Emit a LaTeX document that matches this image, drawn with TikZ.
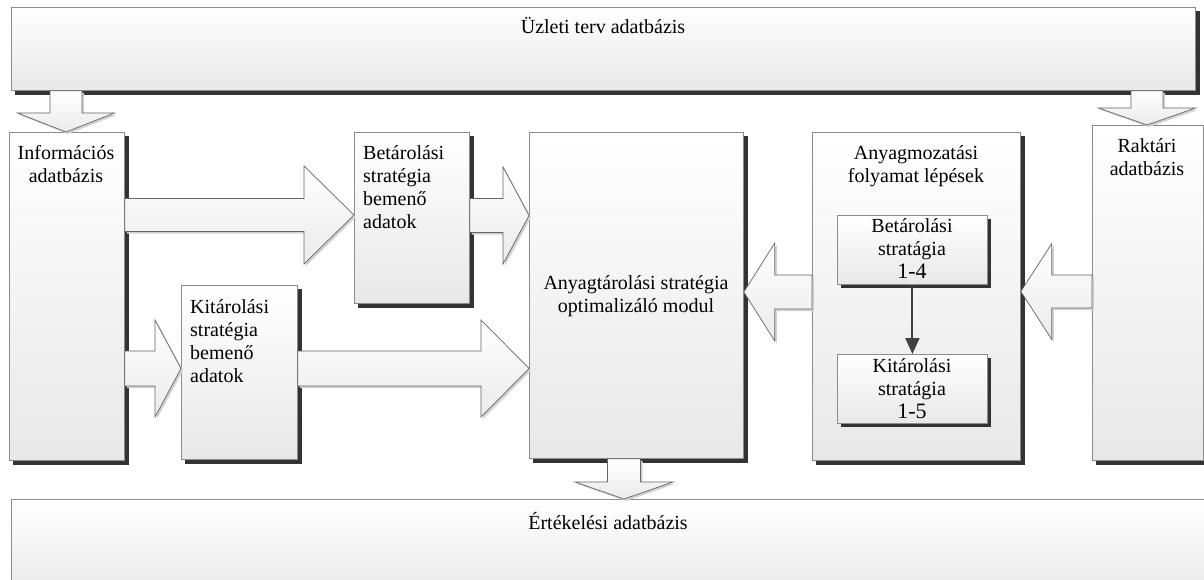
\documentclass[tikz,border=0pt]{standalone}
\usepackage{fontspec}
\setmainfont{Liberation Serif}
\usetikzlibrary{calc,arrows.meta}

\pgfdeclarelayer{under}
\pgfsetlayers{under,main}

\tikzset{
  box/.style={draw=black!45, line width=0.8pt, top color=white, bottom color=black!9,
    inner sep=0pt, anchor=north west},
  boxshadow/.style={fill=black!80},
  blockarrow/.style={draw=black!60, line width=0.7pt, line join=miter,
    top color=white, bottom color=black!8,
    preaction={fill=black!18, transform canvas={shift={(2pt,-2pt)}}}},
  txt/.style={inner sep=0pt, font=\fontsize{20}{23}\selectfont},
  flowarrow/.style={draw=black!75, line width=2pt, -{Triangle[length=16pt,width=14pt]}},
}

% hard drop shadow behind a box
\newcommand\shadowof[1]{%
  \fill[boxshadow] ([shift={(4pt,-4pt)}]#1.north west) rectangle ([shift={(4pt,-4pt)}]#1.south east);}
% horizontal block arrow: tail anchor, tip anchor, centre y, shaft half, head half, head length
\newcommand\harrow[6]{%
  \path[blockarrow] let \p1=(#1), \p2=(#2), \n1={ifthenelse(\x2>\x1,1,-1)} in
    ({\x1},{#3+#4}) -- ({\x2-\n1*#6},{#3+#4}) -- ({\x2-\n1*#6},{#3+#5}) -- ({\x2},{#3})
    -- ({\x2-\n1*#6},{#3-#5}) -- ({\x2-\n1*#6},{#3-#4}) -- ({\x1},{#3-#4}) -- cycle;}
% vertical block arrow: tail anchor, tip anchor, centre x, shaft half, head half, head length
\newcommand\varrow[6]{%
  \path[blockarrow] let \p1=(#1), \p2=(#2), \n1={ifthenelse(\y2>\y1,1,-1)} in
    ({#3-#4},{\y1}) -- ({#3-#4},{\y2-\n1*#6}) -- ({#3-#5},{\y2-\n1*#6}) -- ({#3},{\y2})
    -- ({#3+#5},{\y2-\n1*#6}) -- ({#3+#4},{\y2-\n1*#6}) -- ({#3+#4},{\y1}) -- cycle;}

\begin{document}
\begin{tikzpicture}[x=1pt,y=1pt]
\useasboundingbox (0,0) rectangle (1204,-580);

% main boxes
\node[box, minimum width=1184pt, minimum height=83pt] (top) at (11,-7) {};
\node[box, minimum width=115pt, minimum height=328pt] (info) at (9,-132) {};
\node[box, minimum width=115pt, minimum height=171pt] (betin) at (354,-132) {};
\node[box, minimum width=116pt, minimum height=174pt] (kiin) at (181,-285) {};
\node[box, minimum width=214pt, minimum height=326pt] (central) at (529,-132) {};
\node[box, minimum width=208pt, minimum height=328pt] (anyag) at (812,-132) {};
\node[box, minimum width=111pt, minimum height=335pt] (rakt) at (1092,-125) {};
\node[box, minimum width=1200pt, minimum height=100pt] (bottom) at (11,-499) {};

% page background and box shadows
\begin{pgfonlayer}{under}
  \fill[white] (0,0) rectangle (1204,-580);
  \foreach \b in {top,info,betin,kiin,central,anyag,rakt} {\shadowof{\b}}
\end{pgfonlayer}

% step boxes inside the material flow box, shadow first
\fill[boxshadow] (841,-219) rectangle (991,-288);
\fill[boxshadow] (841,-358) rectangle (991,-427);
\node[box, minimum width=150pt, minimum height=69pt] (be14) at (837,-215) {};
\node[box, minimum width=150pt, minimum height=69pt] (ki15) at (837,-354) {};

% block arrows
\varrow{top.south}{info.north}{66}{16}{48.5}{19}
\varrow{top.south}{rakt.north}{1147}{16}{48.5}{17}
\harrow{info.east}{betin.west}{-215}{16.5}{49}{50}
\harrow{betin.east}{central.west}{-215.5}{17}{48.5}{26}
\harrow{info.east}{kiin.west}{-368.5}{17.5}{48.5}{26}
\harrow{kiin.east}{central.west}{-368.5}{17.5}{48.5}{48}
\harrow{anyag.west}{central.east}{-292}{17}{49}{31}
\harrow{rakt.west}{anyag.east}{-291.5}{16.5}{48}{31}
\varrow{central.south}{bottom.north}{624}{16.5}{49}{17}

% step arrow inside the material flow box
\draw[flowarrow] (be14.south) -- (ki15.north);

% texts
\node[txt, anchor=base] at (603,-34) {Üzleti terv adatbázis};
\node[txt, anchor=base] at (608,-529) {Értékelési adatbázis};
\node[txt, anchor=base] at (66,-160) {\begin{tabular}[t]{@{}c@{}}Információs\\adatbázis\end{tabular}};
\node[txt, anchor=base west] at (363,-160) {\begin{tabular}[t]{@{}l@{}}Betárolási\\stratégia\\bemenő\\adatok\end{tabular}};
\node[txt, anchor=base west] at (190,-313) {\begin{tabular}[t]{@{}l@{}}Kitárolási\\stratégia\\bemenő\\adatok\end{tabular}};
\node[txt, anchor=base] at (636,-289) {\begin{tabular}[t]{@{}c@{}}Anyagtárolási stratégia\\optimalizáló modul\end{tabular}};
\node[txt, anchor=base] at (916,-160) {\begin{tabular}[t]{@{}c@{}}Anyagmozatási\\folyamat lépések\end{tabular}};
\node[txt, anchor=base] at (912,-233) {\begin{tabular}[t]{@{}c@{}}Betárolási\\stratágia\\{\fontsize{22}{23}\selectfont 1-4}\end{tabular}};
\node[txt, anchor=base] at (912,-372) {\begin{tabular}[t]{@{}c@{}}Kitárolási\\stratágia\\{\fontsize{22}{23}\selectfont 1-5}\end{tabular}};
\node[txt, anchor=base] at (1147,-153) {\begin{tabular}[t]{@{}c@{}}Raktári\\adatbázis\end{tabular}};
\end{tikzpicture}
\end{document}
